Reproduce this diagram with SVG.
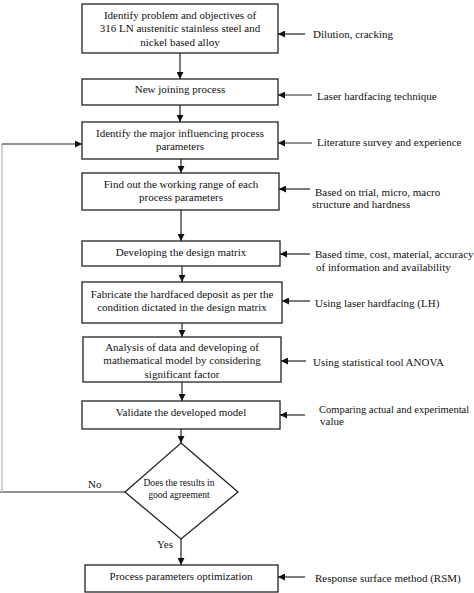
<svg xmlns="http://www.w3.org/2000/svg" width="474" height="593" viewBox="0 0 474 593">
<style>
.box{fill:#fff;stroke:#222;stroke-width:1.3}
.t{font-family:"Liberation Serif","Times New Roman",serif;font-size:11px;fill:#111}
.c{text-anchor:middle}
.d{font-size:9.6px}
.ln{stroke:#222;stroke-width:1.2;fill:none}
</style>
<defs>
<marker id="ah" viewBox="0 0 10 10" refX="10" refY="5" markerWidth="7" markerHeight="7" markerUnits="userSpaceOnUse" orient="auto">
<path d="M0,0L10,5L0,10z" fill="#111"/>
</marker>
</defs>
<rect width="474" height="593" fill="#fff"/>
<g id="n1">
<rect class="box" x="82" y="4" width="196" height="49"/>
<text class="t c" x="180" y="19">Identify problem and objectives of</text>
<text class="t c" x="180" y="32">316 LN austenitic stainless steel and</text>
<text class="t c" x="180" y="46">nickel based alloy</text>
</g>
<g id="n2">
<rect class="box" x="82" y="79" width="196" height="26"/>
<text class="t c" x="180" y="93">New  joining process</text>
</g>
<g id="n3">
<rect class="box" x="82" y="122" width="196" height="37"/>
<text class="t c" x="180" y="137">Identify the major influencing process</text>
<text class="t c" x="180" y="150">parameters</text>
</g>
<g id="n4">
<rect class="box" x="82" y="173" width="197" height="37"/>
<text class="t c" x="181" y="188">Find out the working range of each</text>
<text class="t c" x="181" y="201">process parameters</text>
</g>
<g id="n5">
<rect class="box" x="82" y="241" width="198" height="25"/>
<text class="t c" x="181" y="256">Developing the design matrix</text>
</g>
<g id="n6">
<rect class="box" x="82" y="282" width="200" height="41"/>
<text class="t c" x="182" y="298">Fabricate the hardfaced deposit as per the</text>
<text class="t c" x="182" y="311">condition dictated in the design matrix</text>
</g>
<g id="n7">
<rect class="box" x="83" y="337" width="198" height="45"/>
<text class="t c" x="182" y="351">Analysis of data and developing of</text>
<text class="t c" x="182" y="364">mathematical model by considering</text>
<text class="t c" x="182" y="378">significant factor</text>
</g>
<g id="n8">
<rect class="box" x="82" y="401" width="198" height="28"/>
<text class="t c" x="181" y="416">Validate the developed model</text>
</g>
<g id="n9">
<path class="box" d="M181,443L238,492L181,539L125,492z"/>
<text class="t c d" x="179" y="486">Does the results in</text>
<text class="t c d" x="179" y="498">good agreement</text>
</g>
<g id="n10">
<rect class="box" x="85" y="565" width="193" height="27"/>
<text class="t c" x="181" y="580">Process parameters optimization</text>
</g>
<g id="labels">
<text class="t" x="313" y="38">Dilution, cracking</text>
<text class="t" x="317" y="100">Laser hardfacing technique</text>
<text class="t" x="317" y="146">Literature survey and experience</text>
<text class="t" x="315" y="196">Based on trial, micro, macro</text>
<text class="t" x="312" y="208">structure and  hardness</text>
<text class="t" x="315" y="258">Based time, cost, material, accuracy</text>
<text class="t" x="316" y="271">of information and availability</text>
<text class="t" x="315" y="307">Using laser hardfacing (LH)</text>
<text class="t" x="313" y="366">Using statistical tool ANOVA</text>
<text class="t" x="319" y="413" style="font-size:10.5px">Comparing actual and experimental</text>
<text class="t" x="320" y="425">value</text>
<text class="t" x="315" y="582">Response surface method (RSM)</text>
<text class="t" x="88" y="488">No</text>
<text class="t" x="157" y="548">Yes</text>
</g>
<g id="connectors">
<path class="ln" marker-end="url(#ah)" d="M180,53V79"/>
<path class="ln" marker-end="url(#ah)" d="M180,105V122"/>
<path class="ln" marker-end="url(#ah)" d="M181,159V173"/>
<path class="ln" marker-end="url(#ah)" d="M181,210V241"/>
<path class="ln" marker-end="url(#ah)" d="M182,266V282"/>
<path class="ln" marker-end="url(#ah)" d="M182,323V337"/>
<path class="ln" marker-end="url(#ah)" d="M182,382V401"/>
<path class="ln" marker-end="url(#ah)" d="M181,429V443"/>
<path class="ln" marker-end="url(#ah)" d="M181,539V565"/>
<path class="ln" marker-end="url(#ah)" d="M305,34H278"/>
<path class="ln" marker-end="url(#ah)" d="M312,95H278"/>
<path class="ln" marker-end="url(#ah)" d="M312,143H278"/>
<path class="ln" marker-end="url(#ah)" d="M310,189H279"/>
<path class="ln" marker-end="url(#ah)" d="M310,254H280"/>
<path class="ln" marker-end="url(#ah)" d="M310,301H282"/>
<path class="ln" marker-end="url(#ah)" d="M306,361H281"/>
<path class="ln" marker-end="url(#ah)" d="M305,415H280"/>
<path class="ln" marker-end="url(#ah)" d="M305,577H278"/>
<path class="ln" d="M125,492H0"/>
<path d="M2,144V492" stroke="#cfcfcf" stroke-width="2" fill="none"/>
<path class="ln" marker-end="url(#ah)" d="M2,144H82"/>
</g>
</svg>
